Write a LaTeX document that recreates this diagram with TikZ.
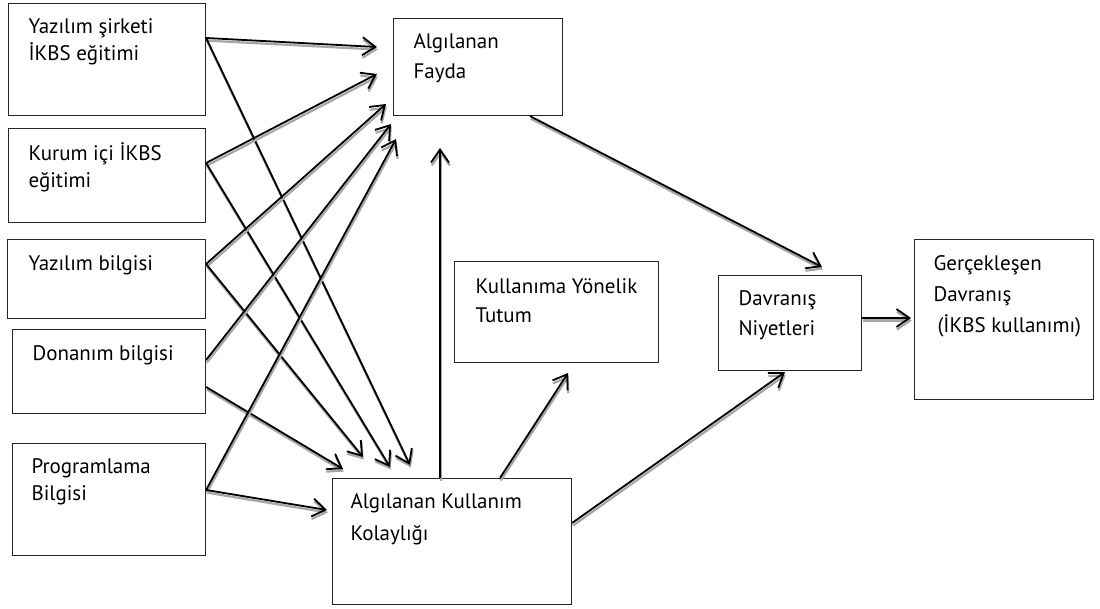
\documentclass[tikz,border=0pt]{standalone}
\usepackage{fontspec}
\setmainfont{PT Sans}
\usetikzlibrary{arrows.meta}
\newcommand{\bt}[6]{\parbox[t][#1pt][t]{#2pt}{\fontsize{21}{#4}\selectfont\raggedright\leftskip=#5pt\relax\vspace*{#3pt}\rule{0pt}{20pt}#6}}
\tikzset{
  box/.style={draw=black!85, line width=1.1pt, inner sep=0pt, anchor=north west},
  tip/.style={-{Straight Barb[length=13pt,width=18pt]}},
  arr/.style={tip, line width=1.8pt, draw=black},
  shad/.style={tip, line width=2.2pt, draw=black!35}
}
\newcommand{\conn}[2]{\begin{scope}[transform canvas={shift={(0.8pt,-2.6pt)}}]\draw[shad] #1 -- #2;\end{scope}\draw[arr] #1 -- #2;}
\begin{document}
\begin{tikzpicture}[x=1pt,y=-1pt]
\useasboundingbox (0,0) rectangle (1100,609);
\node[box] (y1) at (8,3) {\bt{112}{197}{10}{27}{20}{Yazılım şirketi\\İKBS eğitimi}};
\node[box] (k2) at (8,128) {\bt{94}{197}{12}{27}{20}{Kurum içi İKBS\\eğitimi}};
\node[box] (y3) at (7,239) {\bt{79}{198}{11}{27}{21}{Yazılım bilgisi}};
\node[box] (d4) at (12,329) {\bt{84}{193}{11}{27}{20}{Donanım bilgisi}};
\node[box] (p5) at (12,443) {\bt{112}{193}{10}{27}{19}{Programlama\\Bilgisi}};
\node[box] (f) at (393,18) {\bt{97}{169}{10}{30}{20}{Algılanan\\Fayda}};
\node[box] (t) at (454,261) {\bt{101}{204}{12}{29}{21}{Kullanıma Yönelik\\Tutum}};
\node[box] (dv) at (718,275) {\bt{95}{143}{10}{30}{20}{Davranış\\Niyetleri}};
\node[box] (g) at (914,239) {\bt{160}{179}{11}{31}{19}{Gerçekleşen\\Davranış\\\hspace*{4pt}(İKBS kullanımı)}};
\node[box] (k) at (332,478) {\bt{126}{239}{10}{32}{18}{Algılanan Kullanım\\Kolaylığı}};

\coordinate (tf1) at (377,47);
\coordinate (tf2) at (377,74);
\coordinate (tf3) at (386,104);
\coordinate (tf4) at (391,124);
\coordinate (tf5) at (396,139);
\coordinate (tk1) at (410,465);
\coordinate (tk2) at (390,467);
\coordinate (tk3) at (363,457);
\coordinate (tk4) at (343,469);
\coordinate (tk5) at (327,510);
\coordinate (tv) at (440,148);
\coordinate (tt) at (568,373);
\coordinate (td1) at (822,267);
\coordinate (td2) at (785,372);
\coordinate (tg) at (911,318);

\conn{([yshift=-35pt]y1.north east)}{(tf1)}
\conn{([yshift=-35pt]y1.north east)}{(tk1)}
\conn{([yshift=-35pt]k2.north east)}{(tf2)}
\conn{([yshift=-35pt]k2.north east)}{(tk2)}
\conn{([yshift=-25pt]y3.north east)}{(tf3)}
\conn{([yshift=-25pt]y3.north east)}{(tk3)}
\conn{([yshift=-31pt]d4.north east)}{(tf4)}
\conn{([yshift=-58pt]d4.north east)}{(tk4)}
\conn{([yshift=-47pt]p5.north east)}{(tf5)}
\conn{([yshift=-47pt]p5.north east)}{(tk5)}
\conn{([xshift=108pt]k.north west)}{(tv)}
\conn{([xshift=168pt]k.north west)}{(tt)}
\conn{([yshift=-45pt]k.north east)}{(td2)}
\conn{([xshift=137pt]f.south west)}{(td1)}
\conn{([yshift=-43pt]dv.north east)}{(tg)}
\end{tikzpicture}
\end{document}
